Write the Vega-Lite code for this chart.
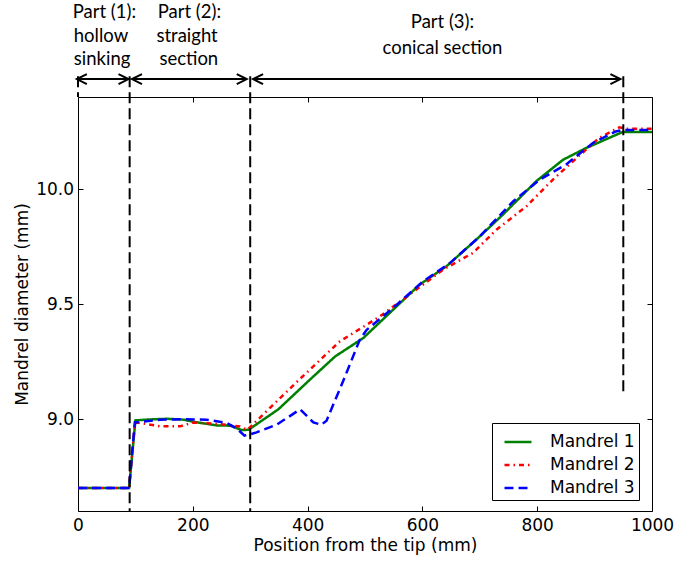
{
  "$schema": "https://vega.github.io/schema/vega-lite/v6.json",
  "width": 574,
  "height": 414,
  "autosize": {"type": "none"},
  "padding": {"left": 78, "top": 97, "right": 23, "bottom": 50},
  "background": "white",
  "config": {
    "view": {"stroke": "black", "strokeWidth": 1},
    "font": "DejaVu Sans",
    "axis": {
      "domain": false,
      "grid": false,
      "tickColor": "black",
      "tickSize": -5,
      "tickWidth": 1,
      "labelColor": "black",
      "titleColor": "black",
      "labelFont": "DejaVu Sans",
      "titleFont": "DejaVu Sans",
      "labelFontSize": 17,
      "titleFontSize": 17,
      "titleFontWeight": "normal",
      "labelFlush": false,
      "labelOverlap": false
    }
  },
  "datasets": {
    "curves": [
      {"series": "Mandrel 1", "x": 0, "y": 8.70},
      {"series": "Mandrel 1", "x": 89, "y": 8.70},
      {"series": "Mandrel 1", "x": 100, "y": 8.994},
      {"series": "Mandrel 1", "x": 125, "y": 8.998},
      {"series": "Mandrel 1", "x": 155, "y": 9.001},
      {"series": "Mandrel 1", "x": 184, "y": 8.997},
      {"series": "Mandrel 1", "x": 201, "y": 8.988},
      {"series": "Mandrel 1", "x": 242, "y": 8.972},
      {"series": "Mandrel 1", "x": 265, "y": 8.971},
      {"series": "Mandrel 1", "x": 285, "y": 8.952},
      {"series": "Mandrel 1", "x": 297, "y": 8.953},
      {"series": "Mandrel 1", "x": 349, "y": 9.042},
      {"series": "Mandrel 1", "x": 404, "y": 9.171},
      {"series": "Mandrel 1", "x": 448, "y": 9.272},
      {"series": "Mandrel 1", "x": 497, "y": 9.352},
      {"series": "Mandrel 1", "x": 543, "y": 9.461},
      {"series": "Mandrel 1", "x": 595, "y": 9.584},
      {"series": "Mandrel 1", "x": 642, "y": 9.664},
      {"series": "Mandrel 1", "x": 694, "y": 9.78},
      {"series": "Mandrel 1", "x": 740, "y": 9.888},
      {"series": "Mandrel 1", "x": 798, "y": 10.033},
      {"series": "Mandrel 1", "x": 845, "y": 10.127},
      {"series": "Mandrel 1", "x": 885, "y": 10.178},
      {"series": "Mandrel 1", "x": 949, "y": 10.248},
      {"series": "Mandrel 1", "x": 1000, "y": 10.248},
      {"series": "Mandrel 2", "x": 0, "y": 8.70},
      {"series": "Mandrel 2", "x": 89, "y": 8.70},
      {"series": "Mandrel 2", "x": 99, "y": 8.98},
      {"series": "Mandrel 2", "x": 103, "y": 8.985},
      {"series": "Mandrel 2", "x": 143, "y": 8.968},
      {"series": "Mandrel 2", "x": 178, "y": 8.968},
      {"series": "Mandrel 2", "x": 201, "y": 8.985},
      {"series": "Mandrel 2", "x": 247, "y": 8.978},
      {"series": "Mandrel 2", "x": 282, "y": 8.967},
      {"series": "Mandrel 2", "x": 295, "y": 8.953},
      {"series": "Mandrel 2", "x": 387, "y": 9.175},
      {"series": "Mandrel 2", "x": 456, "y": 9.337},
      {"series": "Mandrel 2", "x": 526, "y": 9.446},
      {"series": "Mandrel 2", "x": 601, "y": 9.584},
      {"series": "Mandrel 2", "x": 636, "y": 9.649},
      {"series": "Mandrel 2", "x": 688, "y": 9.722},
      {"series": "Mandrel 2", "x": 729, "y": 9.823},
      {"series": "Mandrel 2", "x": 781, "y": 9.924},
      {"series": "Mandrel 2", "x": 827, "y": 10.04},
      {"series": "Mandrel 2", "x": 856, "y": 10.106},
      {"series": "Mandrel 2", "x": 908, "y": 10.222},
      {"series": "Mandrel 2", "x": 943, "y": 10.268},
      {"series": "Mandrel 2", "x": 955, "y": 10.262},
      {"series": "Mandrel 2", "x": 1000, "y": 10.262},
      {"series": "Mandrel 3", "x": 0, "y": 8.70},
      {"series": "Mandrel 3", "x": 89, "y": 8.70},
      {"series": "Mandrel 3", "x": 99, "y": 8.985},
      {"series": "Mandrel 3", "x": 143, "y": 8.997},
      {"series": "Mandrel 3", "x": 183, "y": 8.999},
      {"series": "Mandrel 3", "x": 224, "y": 8.997},
      {"series": "Mandrel 3", "x": 259, "y": 8.983},
      {"series": "Mandrel 3", "x": 276, "y": 8.96},
      {"series": "Mandrel 3", "x": 290, "y": 8.928},
      {"series": "Mandrel 3", "x": 302, "y": 8.935},
      {"series": "Mandrel 3", "x": 311, "y": 8.942},
      {"series": "Mandrel 3", "x": 346, "y": 8.975},
      {"series": "Mandrel 3", "x": 387, "y": 9.042},
      {"series": "Mandrel 3", "x": 410, "y": 8.985},
      {"series": "Mandrel 3", "x": 424, "y": 8.975},
      {"series": "Mandrel 3", "x": 433, "y": 8.993},
      {"series": "Mandrel 3", "x": 462, "y": 9.165},
      {"series": "Mandrel 3", "x": 491, "y": 9.345},
      {"series": "Mandrel 3", "x": 503, "y": 9.388},
      {"series": "Mandrel 3", "x": 549, "y": 9.483},
      {"series": "Mandrel 3", "x": 601, "y": 9.598},
      {"series": "Mandrel 3", "x": 648, "y": 9.678},
      {"series": "Mandrel 3", "x": 700, "y": 9.794},
      {"series": "Mandrel 3", "x": 758, "y": 9.946},
      {"series": "Mandrel 3", "x": 804, "y": 10.04},
      {"series": "Mandrel 3", "x": 850, "y": 10.106},
      {"series": "Mandrel 3", "x": 897, "y": 10.2},
      {"series": "Mandrel 3", "x": 937, "y": 10.25},
      {"series": "Mandrel 3", "x": 950, "y": 10.257},
      {"series": "Mandrel 3", "x": 1000, "y": 10.257}
    ],
    "vlines": [
      {"x": 0, "top": 10.49, "bottom": 10.4},
      {"x": 90, "top": 10.49, "bottom": 8.6},
      {"x": 300, "top": 10.49, "bottom": 8.6},
      {"x": 950, "top": 10.49, "bottom": 9.1}
    ],
    "arrows": [
      {"x1": -2, "x2": 88, "y": 10.478},
      {"x1": 94, "x2": 294, "y": 10.478},
      {"x1": 305, "x2": 945, "y": 10.478}
    ],
    "labels": [
      {"text": "Part (1):", "x": 46, "y": 10.743},
      {"text": "hollow", "x": 40, "y": 10.641},
      {"text": "sinking", "x": 42, "y": 10.539},
      {"text": "Part (2):", "x": 194, "y": 10.743},
      {"text": "straight", "x": 190, "y": 10.641},
      {"text": "section", "x": 193, "y": 10.539},
      {"text": "Part (3):", "x": 635, "y": 10.699},
      {"text": "conical section", "x": 635, "y": 10.585}
    ]
  },
  "layer": [
    {
      "data": {"name": "curves"},
      "mark": {"type": "line", "strokeWidth": 2.5},
      "encoding": {
        "x": {
          "field": "x", "type": "quantitative",
          "scale": {"domain": [0, 1000], "nice": false, "zero": false},
          "axis": {"orient": "bottom", "values": [0, 200, 400, 600, 800, 1000], "format": "d", "title": "Position from the tip (mm)", "labelPadding": 11, "titlePadding": 4}
        },
        "y": {
          "field": "y", "type": "quantitative",
          "scale": {"domain": [8.6, 10.4], "nice": false, "zero": false},
          "axis": {"orient": "left", "values": [9.0, 9.5, 10.0], "format": ".1f", "title": "Mandrel diameter (mm)", "labelPadding": 9.5, "titlePadding": 4}
        },
        "color": {
          "field": "series", "type": "nominal",
          "scale": {"domain": ["Mandrel 1", "Mandrel 2", "Mandrel 3"], "range": ["#008000", "#ff0000", "#0000ff"]},
          "legend": {"title": null, "orient": "none", "legendX": 414, "legendY": 326, "padding": 4, "symbolOffset": 7, "strokeColor": "black", "fillColor": "white", "cornerRadius": 0, "symbolType": "stroke", "symbolSize": 729, "symbolStrokeWidth": 2.5, "labelFont": "DejaVu Sans", "labelFontSize": 17, "labelColor": "black", "labelOffset": 17, "rowPadding": -2}
        },
        "strokeDash": {
          "field": "series", "type": "nominal",
          "scale": {"domain": ["Mandrel 1", "Mandrel 2", "Mandrel 3"], "range": [[1, 0], [5, 4, 1.5, 4], [9, 5]]},
          "legend": {"title": null, "orient": "none", "legendX": 414, "legendY": 326, "padding": 4, "symbolOffset": 7, "strokeColor": "black", "fillColor": "white", "cornerRadius": 0, "symbolType": "stroke", "symbolSize": 729, "symbolStrokeWidth": 2.5, "labelFont": "DejaVu Sans", "labelFontSize": 17, "labelColor": "black", "labelOffset": 17, "rowPadding": -2}
        }
      }
    },
    {
      "data": {"name": "curves"},
      "mark": {"type": "line", "strokeOpacity": 0},
      "encoding": {
        "x": {"field": "x", "type": "quantitative", "scale": {"domain": [0, 1000], "nice": false, "zero": false}, "axis": {"orient": "top", "values": [0, 200, 400, 600, 800, 1000], "labels": false, "title": null}},
        "y": {"field": "y", "type": "quantitative", "scale": {"domain": [8.6, 10.4], "nice": false, "zero": false}, "axis": {"orient": "right", "values": [9.0, 9.5, 10.0], "labels": false, "title": null}},
        "detail": {"field": "series", "type": "nominal"}
      }
    },
    {
      "data": {"name": "vlines"},
      "mark": {"type": "rule", "color": "black", "strokeWidth": 2, "strokeDash": [11, 5], "clip": false},
      "encoding": {
        "x": {"field": "x", "type": "quantitative", "scale": {"domain": [0, 1000], "nice": false, "zero": false}, "axis": null},
        "y": {"field": "top", "type": "quantitative", "scale": {"domain": [8.6, 10.4], "nice": false, "zero": false}, "axis": null},
        "y2": {"field": "bottom"}
      }
    },
    {
      "data": {"name": "arrows"},
      "mark": {"type": "rule", "color": "black", "strokeWidth": 2, "clip": false},
      "encoding": {
        "x": {"field": "x1", "type": "quantitative", "scale": {"domain": [0, 1000], "nice": false, "zero": false}, "axis": null},
        "x2": {"field": "x2"},
        "y": {"field": "y", "type": "quantitative", "scale": {"domain": [8.6, 10.4], "nice": false, "zero": false}, "axis": null}
      }
    },
    {
      "data": {"name": "arrows"},
      "mark": {"type": "point", "shape": "M2,-1L0,0L2,1", "size": 100, "filled": false, "stroke": "black", "strokeWidth": 2, "opacity": 1, "clip": false},
      "encoding": {
        "x": {"field": "x1", "type": "quantitative", "scale": {"domain": [0, 1000], "nice": false, "zero": false}, "axis": null},
        "y": {"field": "y", "type": "quantitative", "scale": {"domain": [8.6, 10.4], "nice": false, "zero": false}, "axis": null}
      }
    },
    {
      "data": {"name": "arrows"},
      "mark": {"type": "point", "shape": "M-2,-1L0,0L-2,1", "size": 100, "filled": false, "stroke": "black", "strokeWidth": 2, "opacity": 1, "clip": false},
      "encoding": {
        "x": {"field": "x2", "type": "quantitative", "scale": {"domain": [0, 1000], "nice": false, "zero": false}, "axis": null},
        "y": {"field": "y", "type": "quantitative", "scale": {"domain": [8.6, 10.4], "nice": false, "zero": false}, "axis": null}
      }
    },
    {
      "data": {"name": "labels"},
      "mark": {"type": "text", "font": "Lato", "fontSize": 18.5, "align": "center", "baseline": "alphabetic", "color": "black", "clip": false},
      "encoding": {
        "x": {"field": "x", "type": "quantitative", "scale": {"domain": [0, 1000], "nice": false, "zero": false}, "axis": null},
        "y": {"field": "y", "type": "quantitative", "scale": {"domain": [8.6, 10.4], "nice": false, "zero": false}, "axis": null},
        "text": {"field": "text", "type": "nominal"}
      }
    }
  ],
  "resolve": {"axis": {"x": "independent", "y": "independent"}}
}
